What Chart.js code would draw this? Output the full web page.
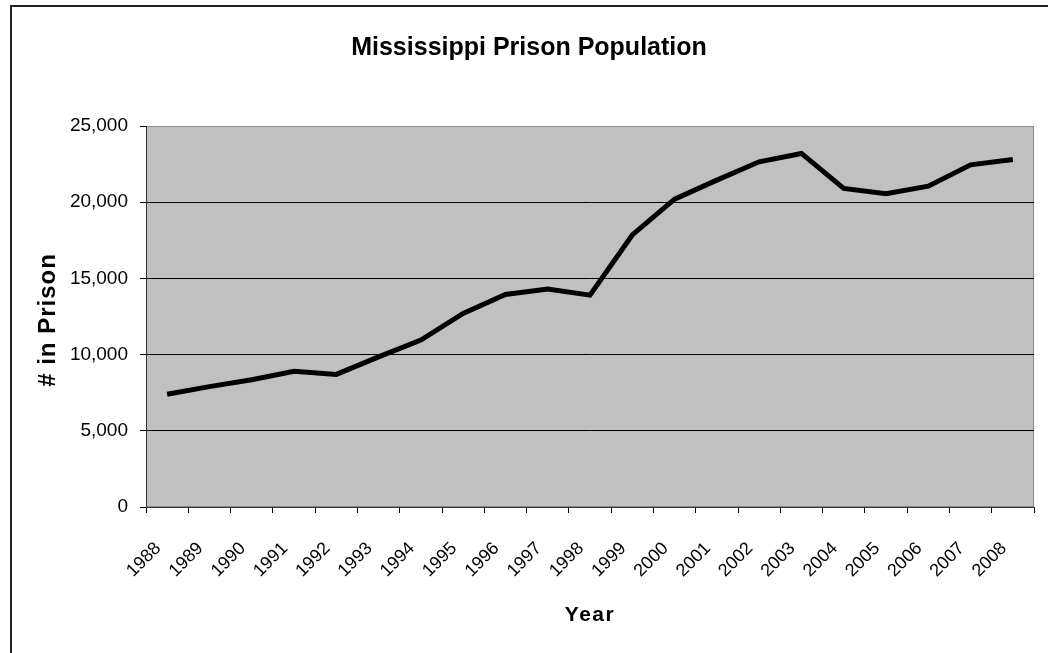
<!DOCTYPE html>
<html>
<head>
<meta charset="utf-8">
<script src="https://cdn.jsdelivr.net/npm/chart.js@4.4.1/dist/chart.umd.min.js"></script>
<style>
  html, body { margin: 0; padding: 0; background: #fff; overflow: hidden; }
  #frame { position: absolute; left: 10px; top: 5px; width: 1100px; height: 720px;
           border-top: 2px solid #222; border-left: 2px solid #222; box-sizing: border-box; }
  #wrap { position: absolute; left: 0; top: 0; width: 1048px; height: 653px; }
</style>
</head>
<body>
<div id="frame"></div>
<div id="wrap"><canvas id="c" width="1048" height="653"></canvas></div>
<script>
const chartTitle = 'Mississippi Prison Population';
const xAxisTitle = 'Year';
const yAxisTitle = '# in Prison';
const years = ['1988','1989','1990','1991','1992','1993','1994','1995','1996','1997','1998',
               '1999','2000','2001','2002','2003','2004','2005','2006','2007','2008'];
const inPrison = [7400, 7900, 8350, 8900, 8700, 9850, 10950, 12700, 13950, 14300, 13900,
                  17850, 20200, 21450, 22650, 23200, 20900, 20550, 21050, 22450, 22800];
const yTicks = [0, 5000, 10000, 15000, 20000, 25000];

const FONT = '"Liberation Sans", Arial, sans-serif';
const target = { left: 146, top: 126, right: 1034, bottom: 507 };

const plotBg = {
  id: 'plotBg',
  beforeDraw(chart) {
    const a = chart.chartArea, ctx = chart.ctx;
    ctx.save();
    ctx.fillStyle = '#c0c0c0';
    ctx.fillRect(a.left, a.top, a.right - a.left, a.bottom - a.top);
    ctx.strokeStyle = '#8a8a8a';
    ctx.lineWidth = 1;
    ctx.strokeRect(a.left + 0.5, a.top + 0.5, a.right - a.left - 1, a.bottom - a.top - 1);
    ctx.restore();
  }
};

const texts = {
  id: 'texts',
  afterDraw(chart) {
    const ctx = chart.ctx;
    ctx.save();
    ctx.fillStyle = '#000';
    ctx.textAlign = 'center';
    ctx.textBaseline = 'middle';
    ctx.font = 'bold 25px ' + FONT;
    ctx.fillText(chartTitle, 529, 48);
    ctx.font = 'bold 21px ' + FONT;
    ctx.letterSpacing = '1.5px';
    ctx.fillText(xAxisTitle, 590, 615);
    ctx.font = 'bold 24px ' + FONT;
    ctx.letterSpacing = '1px';
    ctx.translate(48, 320);
    ctx.rotate(-Math.PI / 2);
    ctx.fillText(yAxisTitle, 0, 0);
    ctx.restore();
  }
};

const chart = new Chart(document.getElementById('c'), {
  type: 'line',
  data: {
    labels: years,
    datasets: [{
      data: inPrison,
      borderColor: '#000',
      borderWidth: 5,
      pointRadius: 0,
      tension: 0,
      fill: false
    }]
  },
  options: {
    responsive: false,
    animation: false,
    events: [],
    layout: { padding: { left: 0, right: 14, top: 120, bottom: 60 } },
    plugins: {
      legend: { display: false },
      tooltip: { enabled: false },
      title: { display: false }
    },
    scales: {
      x: {
        type: 'category',
        offset: true,
        afterFit(scale) { scale.paddingLeft = 0; scale.paddingRight = 0; },
        grid: {
          offset: true,
          drawOnChartArea: false,
          drawTicks: true,
          tickLength: 6,
          tickColor: '#000',
          lineWidth: 1
        },
        border: { display: true, color: '#333', width: 1 },
        ticks: {
          color: '#000',
          font: { family: FONT, size: 18 },
          minRotation: 45,
          maxRotation: 45,
          autoSkip: false,
          padding: 25,
          labelOffset: -9
        }
      },
      y: {
        min: 0,
        max: 25000,
        afterFit(scale) { scale.paddingTop = 0; scale.paddingBottom = 0; },
        afterBuildTicks(scale) { scale.ticks = yTicks.map(v => ({ value: v })); },
        grid: {
          color: (c) => (c.tick && c.tick.value === 25000) ? '#8a8a8a' : '#000',
          lineWidth: 1,
          tickLength: 6,
          tickColor: '#000'
        },
        border: { display: true, color: '#333', width: 1 },
        ticks: {
          color: '#000',
          font: { family: FONT, size: 19 },
          padding: 12,
          callback: (v) => Number(v).toLocaleString('en-US')
        }
      }
    }
  },
  plugins: [plotBg, texts]
});

for (let i = 0; i < 4; i++) {
  const a = chart.chartArea;
  const p = chart.options.layout.padding;
  p.left += target.left - a.left;
  p.right += a.right - target.right;
  p.bottom += a.bottom - target.bottom;
  p.top += target.top - a.top;
  chart.update('none');
}
</script>
</body>
</html>
